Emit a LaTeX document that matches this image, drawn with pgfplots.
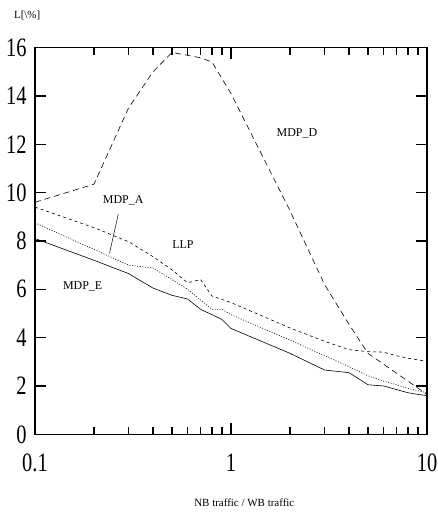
\documentclass[border=0pt]{standalone}
\usepackage{fontspec}
\setmainfont{Liberation Serif}
\usepackage{graphicx}
\usepackage{pgfplots}
\pgfplotsset{compat=1.18}
\newcommand\tl[1]{\scalebox{1}[1.3]{\fontsize{20.5}{20}\selectfont #1}}
\pgfplotstableread{
x y
0.1 9.6
0.2 10.35
0.3 13.5
0.4 15.0
0.5 15.8
0.6 15.68
0.7 15.58
0.8 15.4
1 14.1
2 9.25
3 6.2
4 4.55
5 3.35
10 1.65
}\mdpd
\pgfplotstableread{
x y
0.1 9.4
0.2 8.55
0.3 7.97
0.4 7.35
0.5 6.8
0.6 6.27
0.7 6.4
0.8 5.72
1 5.45
2 4.4
3 3.85
4 3.5
5 3.42
6 3.4
7 3.25
8 3.15
9 3.08
10 3.02
}\llp
\pgfplotstableread{
x y
0.1 8.75
0.2 7.65
0.3 7.0
0.4 6.88
0.5 6.4
0.6 6.0
0.7 5.55
0.8 5.17
0.9 5.17
1 4.95
2 3.9
3 3.25
4 2.8
5 2.42
6 2.2
7 2.05
8 1.9
9 1.8
10 1.72
}\mdpa
\pgfplotstableread{
x y
0.1 8.1
0.2 7.2
0.3 6.65
0.4 6.05
0.5 5.75
0.6 5.6
0.7 5.17
0.8 4.95
0.9 4.75
1 4.38
2 3.35
3 2.66
4 2.55
5 2.05
6 2.0
7 1.85
8 1.72
9 1.65
10 1.6
}\mdpe
\begin{document}
\begin{tikzpicture}
\begin{axis}[
  xmode=log, scale only axis, width=392bp, height=386.7bp,
  xmin=0.1, xmax=10, ymin=0, ymax=16,
  xtick={0.1,1,10}, xticklabels={\tl{0.1},\tl{1},\tl{10}},
  minor xtick={0.2,0.3,0.4,0.5,0.6,0.7,0.8,0.9,2,3,4,5,6,7,8,9},
  ytick={0,2,4,6,8,10,12,14,16},
  yticklabels={\tl{0},\tl{2},\tl{4},\tl{6},\tl{8},\tl{10},\tl{12},\tl{14},\tl{16}},
  tick align=inside, major tick length=11bp, minor tick length=7bp,
  axis line style={line width=1.5pt},
  every tick/.style={black, line width=1.2pt},
  xticklabel style={yshift=-16bp},
  yticklabel style={xshift=-5bp},
  clip=false,
  every axis plot/.append style={black, line width=0.6pt, mark=none},
]
\addplot[dash pattern=on 6pt off 4pt] table {\mdpd};
\addplot[dash pattern=on 3pt off 3pt] table {\llp};
\addplot[dash pattern=on 1pt off 1.6pt] table {\mdpa};
\addplot[solid] table {\mdpe};
\draw[line width=0.5pt] (axis cs:0.266,9.11) -- (axis cs:0.24,7.49);
\node[font=\fontsize{12}{12}\selectfont] at (axis cs:2.17,12.47) {MDP\_D};
\node[font=\fontsize{12}{12}\selectfont] at (axis cs:0.569,7.83) {LLP};
\node[font=\fontsize{12}{12}\selectfont] at (axis cs:0.282,9.69) {MDP\_A};
\node[font=\fontsize{12}{12}\selectfont] at (axis cs:0.175,6.11) {MDP\_E};
\node[font=\fontsize{11}{11}\selectfont] at (rel axis cs:0.534,-0.178) {NB traffic / WB traffic};
\node[font=\fontsize{11}{11}\selectfont] at (rel axis cs:-0.02,1.084) {L[\textbackslash\%]};
\end{axis}
\pgfresetboundingbox
\path[use as bounding box] ([xshift=-35bp,yshift=-81.7bp]current axis.south west) rectangle ([xshift=11bp,yshift=47.6bp]current axis.north east);
\end{tikzpicture}
\end{document}
